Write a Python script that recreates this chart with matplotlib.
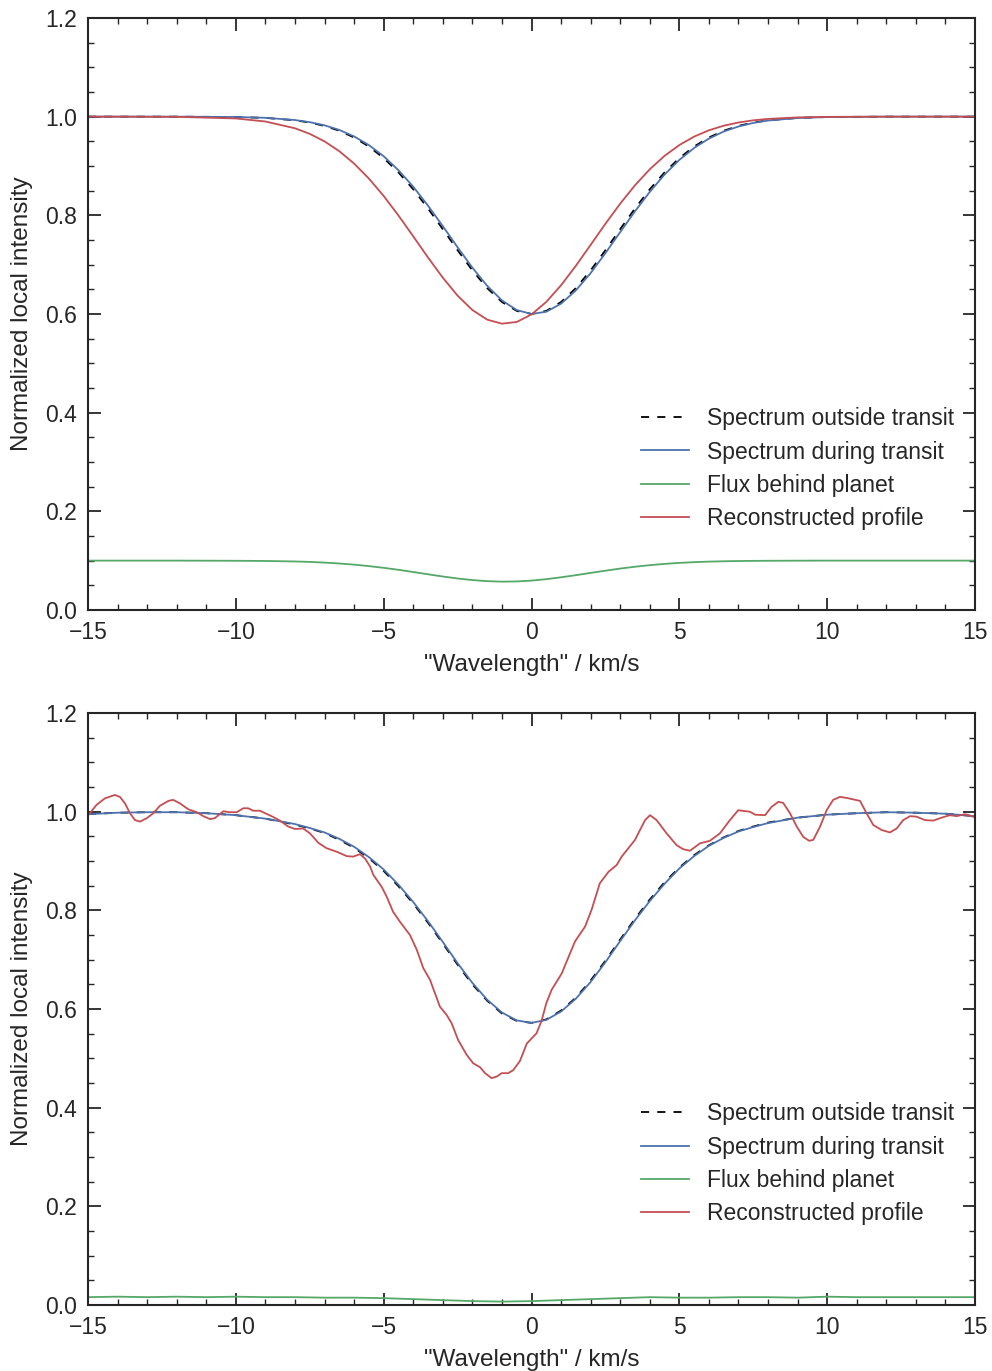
import matplotlib
matplotlib.use("Agg")
import matplotlib.pyplot as plt
from matplotlib.ticker import MultipleLocator

# ---- top panel: smooth model profiles ----
x_top = [-15, -12, -10, -9, -8, -7.5, -7, -6.5, -6, -5.5, -5, -4.5, -4, -3.5, -3, -2.5,
         -2, -1.5, -1, -0.5, 0, 0.5, 1, 1.5, 2, 2.5, 3, 3.5, 4, 4.5, 5, 5.5, 6, 6.5,
         7, 7.5, 8, 9, 10, 12, 15]
outside_top = [1.0, 0.9999, 0.9992, 0.9974, 0.9926, 0.9880, 0.9812, 0.9714, 0.9577, 0.9394,
               0.9160, 0.8870, 0.8527, 0.8138, 0.7720, 0.7292, 0.6884, 0.6524, 0.6242, 0.6062,
               0.6000, 0.6062, 0.6242, 0.6524, 0.6884, 0.7292, 0.7720, 0.8138, 0.8527, 0.8870,
               0.9160, 0.9394, 0.9577, 0.9714, 0.9812, 0.9880, 0.9926, 0.9974, 0.9992, 0.9999, 1.0]
during_top = [1.0, 0.9999, 0.9993, 0.9976, 0.9931, 0.9888, 0.9824, 0.9730, 0.9599, 0.9423,
              0.9197, 0.8914, 0.8579, 0.8195, 0.7780, 0.7351, 0.6939, 0.6570, 0.6275, 0.6079,
              0.6000, 0.6045, 0.6209, 0.6478, 0.6829, 0.7233, 0.7660, 0.8081, 0.8475, 0.8826,
              0.9123, 0.9365, 0.9555, 0.9698, 0.9800, 0.9872, 0.9921, 0.9972, 0.9991, 0.9999, 1.0]
behind_top = [0.1, 0.1, 0.0997, 0.0993, 0.0983, 0.0974, 0.0960, 0.0942, 0.0919, 0.0889,
              0.0854, 0.0814, 0.0769, 0.0723, 0.0678, 0.0638, 0.0606, 0.0584, 0.0574, 0.0578,
              0.0595, 0.0624, 0.0662, 0.0705, 0.0751, 0.0796, 0.0839, 0.0876, 0.0908, 0.0934,
              0.0954, 0.0969, 0.0980, 0.0987, 0.0992, 0.0995, 0.0997, 0.0999, 0.1, 0.1, 0.1]
recon_top = [1.0, 0.9996, 0.9963, 0.9901, 0.9764, 0.9651, 0.9498, 0.9299, 0.9048, 0.8745,
             0.8391, 0.7996, 0.7573, 0.7144, 0.6735, 0.6371, 0.6080, 0.5885, 0.5803, 0.5838,
             0.5990, 0.6245, 0.6582, 0.6977, 0.7401, 0.7829, 0.8237, 0.8609, 0.8933, 0.9205,
             0.9424, 0.9595, 0.9723, 0.9816, 0.9881, 0.9925, 0.9954, 0.9984, 0.9995, 1.0, 1.0]

# ---- bottom panel: noisy case ----
x_bot = [-15, -14, -13, -12, -11, -10, -9, -8, -7.5, -7, -6.5, -6, -5.5, -5, -4.5, -4, -3.5,
         -3, -2.5, -2, -1.5, -1, -0.5, 0, 0.5, 1, 1.5, 2, 2.5, 3, 3.5, 4, 4.5, 5, 5.5, 6,
         6.5, 7, 7.5, 8, 9, 10, 11, 12, 13, 14, 15]
outside_bot = [0.995, 0.998, 0.999, 0.999, 0.997, 0.993, 0.986, 0.974, 0.966, 0.957, 0.943,
               0.927, 0.906, 0.880, 0.849, 0.814, 0.775, 0.733, 0.690, 0.650, 0.617, 0.591,
               0.576, 0.572, 0.579, 0.597, 0.623, 0.658, 0.698, 0.741, 0.783, 0.822, 0.857,
               0.887, 0.912, 0.932, 0.948, 0.961, 0.970, 0.978, 0.988, 0.994, 0.997, 0.999,
               0.998, 0.996, 0.991]
during_bot = [0.995, 0.998, 0.999, 0.999, 0.997, 0.993, 0.986, 0.975, 0.967, 0.958, 0.945,
              0.929, 0.908, 0.883, 0.852, 0.817, 0.778, 0.736, 0.693, 0.653, 0.619, 0.593,
              0.577, 0.572, 0.578, 0.595, 0.621, 0.655, 0.695, 0.738, 0.780, 0.819, 0.854,
              0.885, 0.910, 0.931, 0.947, 0.960, 0.969, 0.977, 0.988, 0.994, 0.997, 0.999,
              0.998, 0.996, 0.991]

x_green_bot = [-15, -14, -13, -12, -11, -10, -9, -8, -7, -6, -5, -4, -3, -2, -1, 0,
               1, 2, 3, 4, 5, 6, 7, 8, 9, 10, 11, 12, 13, 14, 15]
behind_bot = [0.016, 0.017, 0.016, 0.017, 0.016, 0.017, 0.016, 0.016, 0.015, 0.015, 0.014,
              0.012, 0.010, 0.008, 0.007, 0.008, 0.010, 0.012, 0.014, 0.016, 0.015, 0.015,
              0.016, 0.016, 0.015, 0.017, 0.016, 0.016, 0.016, 0.016, 0.016]

x_red_bot = [-15.0, -14.96, -14.71, -14.43, -14.09, -13.92, -13.75, -13.58, -13.41, -13.24,
             -13.01, -12.79, -12.57, -12.28, -12.12, -11.89, -11.61, -11.32, -11.10, -10.87,
             -10.71, -10.42, -10.20, -9.97, -9.75, -9.58, -9.41, -9.18, -9.01, -8.79,
             -8.51, -8.23, -8.00, -7.72, -7.49, -7.21, -6.93, -6.59, -6.25, -6.03,
             -5.80, -5.63, -5.46, -5.35, -5.07, -4.90, -4.68, -4.45, -4.11, -3.88,
             -3.66, -3.43, -3.10, -2.87, -2.70, -2.48, -2.19, -1.97, -1.74, -1.57,
             -1.35, -1.18, -1.01, -0.79, -0.62, -0.39, -0.16, 0.17, 0.34, 0.50,
             0.68, 1.02, 1.47, 1.81, 2.03, 2.31, 2.60, 2.88, 3.05, 3.50,
             3.84, 4.01, 4.23, 4.57, 4.91, 5.13, 5.36, 5.70, 6.03, 6.37,
             6.71, 6.99, 7.39, 7.56, 7.90, 8.12, 8.35, 8.51, 8.74, 8.97,
             9.19, 9.39, 9.53, 9.76, 9.98, 10.20, 10.43, 10.66, 10.88, 11.11,
             11.33, 11.56, 11.84, 12.12, 12.35, 12.57, 12.80, 13.02, 13.31, 13.59,
             13.87, 14.15, 14.38, 14.66, 14.94, 15.0]
recon_bot = [0.993, 0.995, 1.014, 1.027, 1.034, 1.030, 1.017, 0.997, 0.983, 0.980,
             0.987, 0.997, 1.012, 1.022, 1.024, 1.017, 1.005, 0.999, 0.991, 0.985,
             0.987, 1.001, 0.999, 0.999, 1.007, 1.007, 1.002, 1.002, 0.997, 0.991,
             0.982, 0.970, 0.965, 0.966, 0.956, 0.937, 0.926, 0.919, 0.910, 0.909,
             0.914, 0.905, 0.889, 0.872, 0.848, 0.828, 0.797, 0.777, 0.750, 0.720,
             0.683, 0.659, 0.605, 0.588, 0.571, 0.537, 0.507, 0.490, 0.482, 0.470,
             0.460, 0.463, 0.470, 0.470, 0.476, 0.495, 0.530, 0.551, 0.576, 0.612,
             0.639, 0.672, 0.737, 0.767, 0.801, 0.855, 0.878, 0.892, 0.909, 0.943,
             0.983, 0.993, 0.983, 0.956, 0.932, 0.924, 0.921, 0.936, 0.941, 0.956,
             0.983, 1.003, 1.000, 0.994, 0.993, 1.010, 1.020, 1.018, 0.997, 0.970,
             0.949, 0.941, 0.943, 0.970, 1.003, 1.024, 1.030, 1.028, 1.025, 1.022,
             0.997, 0.973, 0.963, 0.958, 0.966, 0.983, 0.991, 0.990, 0.983, 0.982,
             0.988, 0.993, 0.991, 0.995, 0.990, 0.988]

labels = ["Spectrum outside transit", "Spectrum during transit",
          "Flux behind planet", "Reconstructed profile"]
BLUE = "#4C72B0"
GREEN = "#55A868"
RED = "#C44E52"
DARK = "#262626"

plt.rcParams['font.family'] = ['Liberation Sans', 'DejaVu Sans']
plt.rcParams['text.color'] = DARK
plt.rcParams['axes.labelcolor'] = DARK

fig = plt.figure(figsize=(9.92, 13.71), dpi=100)
ax1 = fig.add_axes([0.0887, 0.5551, 0.8942, 0.4318])
ax2 = fig.add_axes([0.0887, 0.0481, 0.8942, 0.4318])


def draw(ax, xo, outside, xd, during, xg, behind, xr, recon):
    ax.plot(xo, outside, color="k", lw=1.3, dashes=(4.5, 4.5), label=labels[0])
    ax.plot(xd, during, color=BLUE, lw=1.3, label=labels[1])
    ax.plot(xg, behind, color=GREEN, lw=1.3, label=labels[2])
    ax.plot(xr, recon, color=RED, lw=1.3, label=labels[3])
    ax.set_xlim(-15, 15)
    ax.set_ylim(0, 1.2)
    ax.xaxis.set_major_locator(MultipleLocator(5))
    ax.xaxis.set_minor_locator(MultipleLocator(1))
    ax.yaxis.set_major_locator(MultipleLocator(0.2))
    ax.yaxis.set_minor_locator(MultipleLocator(0.05))
    ax.tick_params(which="both", direction="in", top=True, right=True,
                   colors=DARK, labelsize=16.5)
    ax.tick_params(which="major", length=9, width=1.3, pad=8)
    ax.tick_params(which="minor", length=4.5, width=1.0)
    for s in ax.spines.values():
        s.set_linewidth(1.5)
        s.set_color(DARK)
    ax.set_xlabel('"Wavelength" / km/s', fontsize=17.5, labelpad=7)
    ax.set_ylabel("Normalized local intensity", fontsize=17.5, labelpad=9)
    ax.legend(loc="lower right", bbox_to_anchor=(1, 0.1), frameon=False,
              fontsize=16.5, handlelength=2.1, labelspacing=0.45, handletextpad=0.8)


draw(ax1, x_top, outside_top, x_top, during_top, x_top, behind_top, x_top, recon_top)
draw(ax2, x_bot, outside_bot, x_bot, during_bot, x_green_bot, behind_bot, x_red_bot, recon_bot)

fig.savefig("out.png", dpi=100)
